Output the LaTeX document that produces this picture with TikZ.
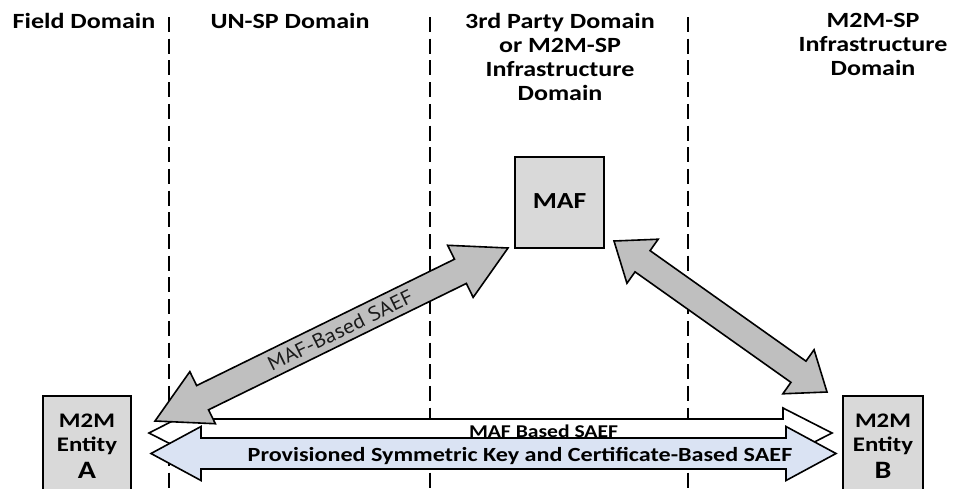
\documentclass[tikz,border=0pt]{standalone}
\usepackage{fontspec}
\setmainfont{Carlito}[FakeStretch=1.2]
\newfontfamily\arrowfont{PT Sans}[FakeStretch=1.1]
\usetikzlibrary{calc}
\definecolor{boxgray}{HTML}{D9D9D9}
\definecolor{arrgray}{HTML}{BFBFBF}
\definecolor{lblue}{HTML}{DAE3F3}
\definecolor{txtgray}{HTML}{1A1A1A}
% #1 style, #2 tip P, #3 tip Q, #4 shaft half width, #5 head half width, #6 head length
\newcommand\mydblarrow[6]{%
  \path[#1] (#2)
    -- ($(#2)!#6!(#3)!#5!90:(#3)$)
    -- ($(#2)!#6!(#3)!#4!90:(#3)$)
    -- ($(#3)!#6!(#2)!#4!-90:(#2)$)
    -- ($(#3)!#6!(#2)!#5!-90:(#2)$)
    -- (#3)
    -- ($(#3)!#6!(#2)!#5!90:(#2)$)
    -- ($(#3)!#6!(#2)!#4!90:(#2)$)
    -- ($(#2)!#6!(#3)!#4!-90:(#3)$)
    -- ($(#2)!#6!(#3)!#5!-90:(#3)$)
    -- cycle;}
\begin{document}
\begin{tikzpicture}[x=1pt,y=-1pt,
  ent/.style={draw=black, line width=2pt, fill=boxgray, inner sep=0pt, anchor=north west},
  divider/.style={line width=1.5pt, dash pattern=on 15pt off 6.7pt},
  hdr/.style={font=\bfseries\fontsize{21.7}{24}\selectfont, align=center, inner sep=0pt},
  grayarrow/.style={draw=black, line width=1.6pt, fill=arrgray, line join=miter},
  whitearrow/.style={draw=black, line width=1.6pt, fill=white, line join=miter},
  bluearrow/.style={draw=black, line width=1.6pt, fill=lblue, line join=miter},
  enttxt/.style={font=\bfseries\fontsize{20.7}{24}\selectfont, align=center, inner sep=0pt, anchor=base},
]
\useasboundingbox (0,0) rectangle (957,488);

% domain dividers
\coordinate (d1t) at (169,17); \coordinate (d1b) at (169,490);
\coordinate (d2t) at (430,17); \coordinate (d2b) at (430,490);
\coordinate (d3t) at (688,17); \coordinate (d3b) at (688,490);
\draw[divider] (d1t) -- (d1b);
\draw[divider] (d2t) -- (d2b);
\draw[divider] (d3t) -- (d3b);

% headers
\node[hdr, anchor=base] (h1) at (84,28) {Field Domain};
\node[hdr, anchor=base] (h2) at (290,28) {UN-SP Domain};
\node[hdr, anchor=north] (h3) at (560,13.5) {3rd Party Domain\\or M2M-SP\\Infrastructure\\Domain};
\node[hdr, anchor=north] (h4) at (873,13) {M2M-SP\\Infrastructure\\Domain};

% boxes
\node[ent, minimum width=88pt, minimum height=96pt] (A) at (42,395) {};
\node[ent, minimum width=80pt, minimum height=96pt] (B) at (842,395) {};
\node[ent, minimum width=89pt, minimum height=91pt] (MAF) at (514,156) {};
\node[font=\bfseries\fontsize{23}{26}\selectfont, inner sep=0pt, anchor=base] (maft) at ($(MAF.north)+(0,52)$) {MAF};
\node[enttxt] (At) at ($(A.north)+(0,83)$) {M2M\\Entity\\[3pt]{\fontsize{25}{25}\selectfont A}};
\node[enttxt] (Bt) at ($(B.north)+(0,83)$) {M2M\\Entity\\[3pt]{\fontsize{25}{25}\selectfont B}};

% arrow end points
\coordinate (wA) at ($(A.east |- 0,433)+(17,0)$);
\coordinate (wB) at ($(B.west |- 0,433)+(-10,0)$);
\coordinate (bA) at ($(A.east |- 0,453.5)+(19,0)$);
\coordinate (bB) at ($(B.west |- 0,453.5)+(-6,0)$);
\coordinate (gA) at ($(A.north east)+(23,26)$);
\coordinate (gM) at ($(MAF.south west)+(-6,-1)$);
\coordinate (gM2) at ($(MAF.south east)+(9,-8)$);
\coordinate (gB) at ($(B.north west)+(-15,-3)$);

% arrows
\mydblarrow{whitearrow}{wA}{wB}{14pt}{25pt}{49pt}
\mydblarrow{bluearrow}{bA}{bB}{15.5pt}{27pt}{50pt}
\mydblarrow{grayarrow}{gA}{gM}{13.5pt}{29pt}{53pt}
\mydblarrow{grayarrow}{gM2}{gB}{13pt}{27pt}{35pt}

% arrow labels
\node[font=\bfseries\fontsize{18}{20}\selectfont, inner sep=0pt, anchor=base] (wl) at (543.5,437) {MAF Based SAEF};
\node[font=\bfseries\fontsize{20.1}{24}\selectfont, inner sep=0pt, anchor=base] (bl) at (520,461.5) {Provisioned Symmetric Key and Certificate-Based SAEF};
\path (gA) -- (gM) node[pos=0.525, sloped, font=\arrowfont\fontsize{20}{22}\selectfont, text=txtgray, inner sep=0pt] (gl) {MAF-Based SAEF};
\end{tikzpicture}
\end{document}
